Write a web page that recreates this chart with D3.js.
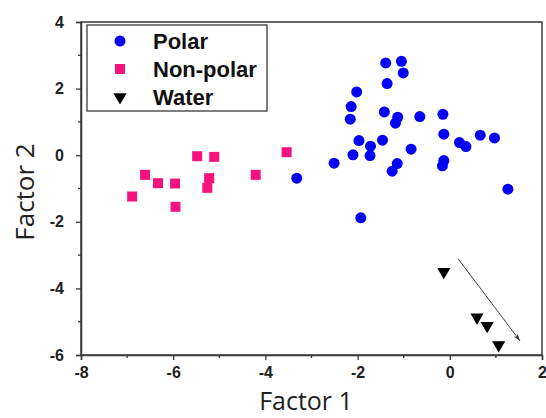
<!DOCTYPE html>
<html>
<head>
<meta charset="utf-8">
<script src="https://cdn.jsdelivr.net/npm/d3@7"></script>
<style>
  body { margin: 0; background: #fff; }
  svg { display: block; }
</style>
</head>
<body>
<div id="chart"></div>
<script>
// data
var polarX = [-1.39, -1.05, -1.01, -1.36, -2.02, -2.14, -2.16, -1.42, -1.13, -1.18, -0.65, -0.15, -0.13, -1.97, -1.46, -1.72, -0.84, -2.10, -1.73, 0.21, 0.35, 0.66, 0.97, -0.13, -0.16, -1.14, -1.25, -2.51, -3.32, -1.93, 1.26];
var polarY = [2.77, 2.82, 2.47, 2.15, 1.90, 1.46, 1.08, 1.30, 1.14, 0.96, 1.16, 1.23, 0.63, 0.44, 0.45, 0.27, 0.18, 0.01, -0.01, 0.38, 0.26, 0.60, 0.52, -0.16, -0.32, -0.25, -0.48, -0.24, -0.69, -1.88, -1.02];
var nonPolarX = [-6.89, -6.61, -6.33, -5.96, -5.95, -5.48, -5.11, -5.22, -5.26, -4.21, -3.54];
var nonPolarY = [-1.24, -0.59, -0.84, -0.85, -1.55, -0.03, -0.05, -0.69, -0.98, -0.59, 0.09];
var waterX = [-0.13, 0.59, 0.81, 1.06];
var waterY = [-3.50, -4.87, -5.12, -5.70];
var arrowFrom = [0.18, -3.11];
var arrowTo = [1.52, -5.57];
var xTicks = [-8, -6, -4, -2, 0, 2];
var yTicks = [-6, -4, -2, 0, 2, 4];
var legendNames = ['Polar', 'Non-polar', 'Water'];

(function(d3){
    var W = 546, H = 418;
    var m = { left: 81, right: 542, top: 22, bottom: 355 };
    var axisCol = '#3a3a3a';

    var svg = d3.select('#chart').append('svg')
        .attr('width', W).attr('height', H);

    var x = d3.scaleLinear().domain([-8, 2]).range([m.left, m.right]);
    var y = d3.scaleLinear().domain([-6, 4]).range([m.bottom, m.top]);

    // minor ticks at odd values
    var xMinor = d3.range(-7, 2, 2), yMinor = d3.range(-5, 4, 2);
    var fmt = function(d){ return String(d); }; // plain hyphen, like the original

    // frame
    svg.append('rect')
        .attr('x', m.left).attr('y', m.top)
        .attr('width', m.right - m.left).attr('height', m.bottom - m.top)
        .attr('fill', 'none').attr('stroke', axisCol).attr('stroke-width', 1.5);

    // x axis
    var gx = svg.append('g').attr('transform', 'translate(0,' + m.bottom + ')')
        .call(d3.axisBottom(x).tickValues(xTicks).tickSize(5).tickPadding(7).tickFormat(fmt));
    gx.append('g').selectAll('line').data(xMinor).join('line')
        .attr('x1', function(d){ return x(d); }).attr('x2', function(d){ return x(d); })
        .attr('y1', 0).attr('y2', 3);

    // y axis
    var gy = svg.append('g').attr('transform', 'translate(' + m.left + ',0)')
        .call(d3.axisLeft(y).tickValues(yTicks).tickSize(5).tickPadding(12).tickFormat(fmt));
    gy.append('g').selectAll('line').data(yMinor).join('line')
        .attr('y1', function(d){ return y(d); }).attr('y2', function(d){ return y(d); })
        .attr('x1', 0).attr('x2', -3);

    [gx, gy].forEach(function(g){
        g.select('.domain').attr('stroke', axisCol).attr('stroke-width', 1.5);
        g.selectAll('line').attr('stroke', axisCol).attr('stroke-width', 1.3);
        g.selectAll('text')
            .attr('fill', '#222')
            .style('font-family', 'Liberation Sans, Arial, sans-serif')
            .style('font-weight', 'bold')
            .style('font-size', '16px');
    });

    // axis titles
    svg.append('text')
        .attr('x', 306).attr('y', 410)
        .attr('text-anchor', 'middle')
        .style('font-family', 'Open Sans, sans-serif')
        .style('font-size', '25px').attr('fill', '#222')
        .text('Factor 1');
    svg.append('text')
        .attr('transform', 'translate(34,192) rotate(-90)')
        .attr('text-anchor', 'middle')
        .style('font-family', 'Open Sans, sans-serif')
        .style('font-size', '26px').attr('fill', '#222')
        .text('Factor 2');

    // symbols
    var circle = d3.symbol().type(d3.symbolCircle).size(95);
    var square = d3.symbol().type(d3.symbolSquare).size(100);
    var tri = d3.symbol().type(d3.symbolTriangle).size(75);

    var plot = svg.append('g');

    plot.selectAll('.np').data(nonPolarX).join('path')
        .attr('class', 'np')
        .attr('d', square)
        .attr('transform', function(d, i){ return 'translate(' + x(d) + ',' + y(nonPolarY[i]) + ')'; })
        .attr('fill', '#f5127d');

    plot.selectAll('.po').data(polarX).join('path')
        .attr('class', 'po')
        .attr('d', circle)
        .attr('transform', function(d, i){ return 'translate(' + x(d) + ',' + y(polarY[i]) + ')'; })
        .attr('fill', '#0000f5');

    plot.selectAll('.wa').data(waterX).join('path')
        .attr('class', 'wa')
        .attr('d', tri)
        .attr('transform', function(d, i){ return 'translate(' + x(d) + ',' + y(waterY[i]) + ') rotate(180)'; })
        .attr('fill', '#000');

    // arrow
    svg.append('defs').append('marker')
        .attr('id', 'ah').attr('viewBox', '0 0 10 10')
        .attr('refX', 10).attr('refY', 5)
        .attr('markerWidth', 7).attr('markerHeight', 7)
        .attr('orient', 'auto')
        .append('path').attr('d', 'M0,1.5 L10,5 L0,8.5 L3,5 Z').attr('fill', '#333');
    plot.append('line')
        .attr('x1', x(arrowFrom[0])).attr('y1', y(arrowFrom[1]))
        .attr('x2', x(arrowTo[0])).attr('y2', y(arrowTo[1]))
        .attr('stroke', '#444').attr('stroke-width', 1)
        .attr('marker-end', 'url(#ah)');

    // legend
    var leg = svg.append('g');
    leg.append('rect')
        .attr('x', 87).attr('y', 25).attr('width', 180).attr('height', 86)
        .attr('fill', '#fff').attr('stroke', axisCol).attr('stroke-width', 1.3);
    var legSyms = [circle, square, tri];
    var legCols = ['#0000f5', '#f5127d', '#000'];
    legendNames.forEach(function(name, i){
        var yy = 41 + i * 28;
        leg.append('path')
            .attr('d', legSyms[i])
            .attr('transform', 'translate(120,' + yy + ')' + (i == 2 ? ' rotate(180)' : ''))
            .attr('fill', legCols[i]);
        leg.append('text')
            .attr('x', 153).attr('y', yy + 8)
            .style('font-family', 'Liberation Sans, Arial, sans-serif')
            .style('font-weight', 'bold').style('font-size', '22px')
            .attr('fill', '#111')
            .text(name);
    });
}(d3));
</script>
</body>
</html>
